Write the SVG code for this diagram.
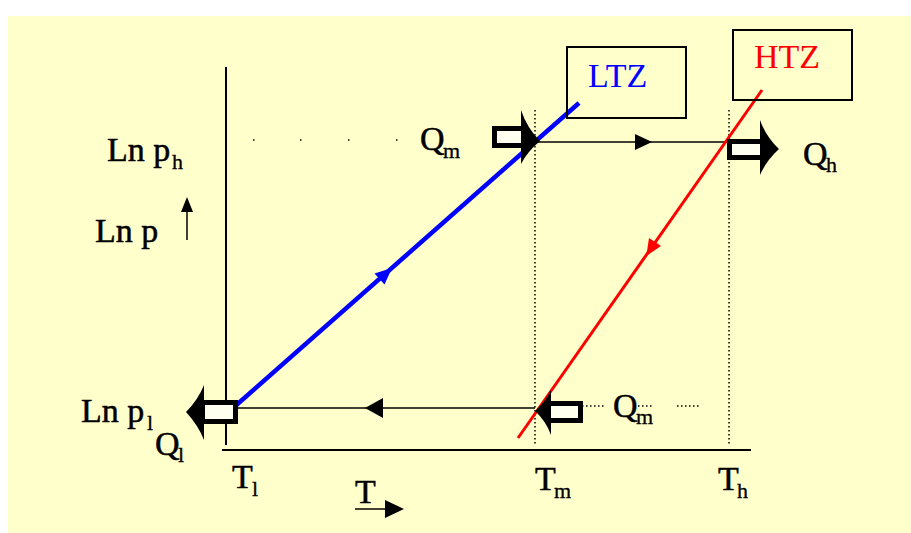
<svg xmlns="http://www.w3.org/2000/svg" width="911" height="533" viewBox="0 0 911 533">
<defs>
<style>
.t{font-family:"Liberation Serif","Times New Roman",serif;font-size:34px;fill:#000;stroke:#000;stroke-width:0.5}
.s{font-family:"Liberation Serif","Times New Roman",serif;font-size:22px;fill:#000;stroke:#000;stroke-width:0.3}
.ax{stroke:#000;stroke-width:2;fill:none}
.thin{stroke:#000;stroke-width:1.5;fill:none}
.dot{stroke:#000;stroke-width:1.5;stroke-dasharray:1.5 2.5;fill:none}
.shaft{fill:#FFFFF0;stroke:#000;stroke-width:5}
.head{fill:#000}
.box{fill:none;stroke:#000;stroke-width:2}
</style>
</defs>
<rect x="0" y="0" width="911" height="533" fill="#FFFFFF"/>
<rect x="8" y="16" width="903" height="517" fill="#FFFFCC"/>

<g id="axes">
<line class="ax" x1="226" y1="67" x2="226" y2="445"/>
<line class="ax" x1="222" y1="450" x2="751" y2="450"/>
<line class="dot" x1="535" y1="110" x2="535" y2="445"/>
<line class="dot" x1="729" y1="110" x2="729" y2="445"/>
</g>

<g id="connectors">
<line class="dot" x1="253" y1="140" x2="257" y2="140"/>
<line class="dot" x1="300" y1="140" x2="304" y2="140"/>
<line class="dot" x1="348" y1="140" x2="352" y2="140"/>
<line class="dot" x1="396" y1="140" x2="400" y2="140"/>
<line class="dot" x1="582" y1="406" x2="604" y2="406"/>
<line class="dot" x1="638" y1="406" x2="654" y2="406"/>
<line class="dot" x1="677" y1="406" x2="699" y2="406"/>
<line class="thin" x1="538" y1="142" x2="728" y2="142"/>
<polygon class="head" points="652,142 635,134 635,150"/>
<line class="thin" x1="237" y1="408" x2="535" y2="408"/>
<polygon class="head" points="365,408 383,398 383,418"/>
<line x1="233" y1="408" x2="579" y2="103" stroke="#0000FF" stroke-width="4.5"/>
<polygon points="392,268 384.5,284.5 374.5,273.5" fill="#0000FF"/>
<line x1="762" y1="90" x2="518" y2="438" stroke="#FF0000" stroke-width="3"/>
<polygon points="646.3,256 661,246 649,238" fill="#FF0000"/>
<line class="thin" x1="187" y1="240" x2="187" y2="208"/>
<polygon class="head" points="187,197 181,212 193,212"/>
<line class="thin" x1="355" y1="509" x2="388" y2="509"/>
<polygon class="head" points="404,509 385,500 385,518"/>
</g>

<g id="arrow-qm-top">
<rect class="shaft" x="494.5" y="128.5" width="30" height="17"/>
<path class="head" d="M521,110 Q527,128 540,141 Q527,152 521,164 Z"/>
</g>
<g id="arrow-qh">
<rect class="shaft" x="729.5" y="141.5" width="34" height="16"/>
<path class="head" d="M760,120 Q766,137 779,149 Q766,161 760,175 Z"/>
</g>
<g id="arrow-qm-bottom">
<rect class="shaft" x="547.5" y="403.5" width="33" height="17"/>
<path class="head" d="M551,390 Q546,401 535,411 Q546,421 551,435 Z"/>
</g>
<g id="arrow-ql">
<rect class="shaft" x="202.5" y="402.5" width="33" height="19"/>
<path class="head" d="M204,385 Q198,400 186,412 Q198,425 204,440 Z"/>
</g>

<g id="ltz">
<rect class="box" x="567" y="47" width="119" height="71"/>
<text x="588" y="87" class="t" style="fill:#0000FF;stroke:none">LTZ</text>
</g>
<g id="htz">
<rect class="box" x="733" y="30" width="119" height="70"/>
<text x="754" y="68" class="t" style="fill:#FF0000;stroke:none">HTZ</text>
</g>

<g id="labels">
<text x="107" y="161" class="t">Ln p</text>
<text x="172" y="169" class="s">h</text>
<text x="95" y="242" class="t">Ln p</text>
<text x="81" y="422" class="t">Ln p</text>
<text x="147" y="430" class="s">l</text>
<text x="155" y="455" class="t">Q</text>
<text x="178" y="462" class="s">l</text>
<text x="420" y="150" class="t">Q</text>
<text x="443" y="158" class="s">m</text>
<text x="803" y="165" class="t">Q</text>
<text x="826" y="172" class="s">h</text>
<text x="613" y="417" class="t">Q</text>
<text x="636" y="424" class="s">m</text>
<text x="232" y="488" class="t">T</text>
<text x="252" y="496" class="s">l</text>
<text x="535" y="490" class="t">T</text>
<text x="554" y="498" class="s">m</text>
<text x="718" y="490" class="t">T</text>
<text x="737" y="498" class="s">h</text>
<text x="355" y="503" class="t">T</text>
</g>
</svg>
